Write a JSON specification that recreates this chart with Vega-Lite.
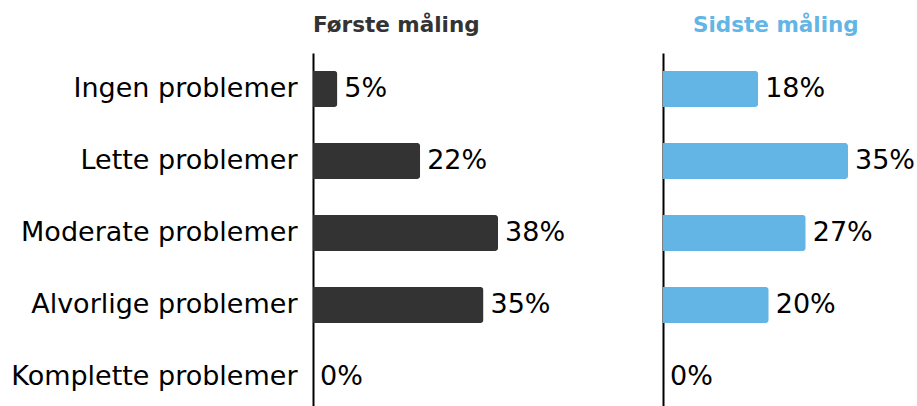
{
  "$schema": "https://vega.github.io/schema/vega-lite/v6.json",
  "background": "white",
  "padding": {"left": 10, "top": 14, "right": 0, "bottom": 0},
  "config": {
    "view": {"stroke": null},
    "font": "DejaVu Sans",
    "concat": {"spacing": 50}
  },
  "data": {
    "values": [
      {"maaling": "Første måling", "kategori": "Ingen problemer", "pct": 0.05},
      {"maaling": "Første måling", "kategori": "Lette problemer", "pct": 0.22},
      {"maaling": "Første måling", "kategori": "Moderate problemer", "pct": 0.38},
      {"maaling": "Første måling", "kategori": "Alvorlige problemer", "pct": 0.35},
      {"maaling": "Første måling", "kategori": "Komplette problemer", "pct": 0},
      {"maaling": "Sidste måling", "kategori": "Ingen problemer", "pct": 0.18},
      {"maaling": "Sidste måling", "kategori": "Lette problemer", "pct": 0.35},
      {"maaling": "Sidste måling", "kategori": "Moderate problemer", "pct": 0.27},
      {"maaling": "Sidste måling", "kategori": "Alvorlige problemer", "pct": 0.20},
      {"maaling": "Sidste måling", "kategori": "Komplette problemer", "pct": 0}
    ]
  },
  "hconcat": [
    {
      "title": {"text": "Første måling", "anchor": "start", "frame": "group", "color": "#333333", "fontSize": 21.5, "fontWeight": "bold", "offset": 17},
      "transform": [{"filter": "datum.maaling == 'Første måling'"}],
      "width": 300,
      "height": 354,
      "encoding": {
        "y": {
          "field": "kategori", "type": "nominal",
          "sort": ["Ingen problemer", "Lette problemer", "Moderate problemer", "Alvorlige problemer", "Komplette problemer"],
          "scale": {"paddingInner": 0.5, "paddingOuter": 0.208, "align": 0.6},
          "axis": {"title": null, "domainColor": "#000000", "domainWidth": 2, "ticks": false, "labelFontSize": 27, "labelPadding": 16, "labelColor": "#000000", "labelLimit": 400}
        },
        "x": {"field": "pct", "type": "quantitative", "scale": {"domain": [0, 0.616]}, "axis": null}
      },
      "layer": [
        {"mark": {"type": "bar", "color": "#333333", "cornerRadiusEnd": 3}},
        {"mark": {"type": "text", "align": "left", "dx": 7, "fontSize": 27, "color": "#000000"},
         "encoding": {"text": {"field": "pct", "type": "quantitative", "format": ".0%"}}}
      ]
    },
    {
      "title": {"text": "Sidste måling", "anchor": "start", "frame": "group", "dx": 30, "color": "#63b5e5", "fontSize": 21.5, "fontWeight": "bold", "offset": 17},
      "transform": [{"filter": "datum.maaling == 'Sidste måling'"}],
      "width": 250,
      "height": 354,
      "encoding": {
        "y": {
          "field": "kategori", "type": "nominal",
          "sort": ["Ingen problemer", "Lette problemer", "Moderate problemer", "Alvorlige problemer", "Komplette problemer"],
          "scale": {"paddingInner": 0.5, "paddingOuter": 0.208, "align": 0.6},
          "axis": {"title": null, "domainColor": "#000000", "domainWidth": 2, "ticks": false, "labels": false}
        },
        "x": {"field": "pct", "type": "quantitative", "scale": {"domain": [0, 0.473]}, "axis": null}
      },
      "layer": [
        {"mark": {"type": "bar", "color": "#63b5e5", "cornerRadiusEnd": 3}},
        {"mark": {"type": "text", "align": "left", "dx": 7, "fontSize": 27, "color": "#000000"},
         "encoding": {"text": {"field": "pct", "type": "quantitative", "format": ".0%"}}}
      ]
    }
  ]
}
